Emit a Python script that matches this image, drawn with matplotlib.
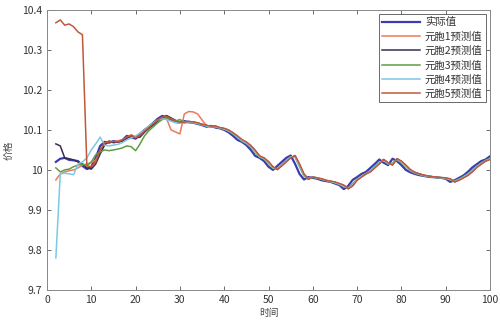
import numpy as np
import matplotlib
matplotlib.use("Agg")
import matplotlib.pyplot as plt

plt.rcParams['font.family'] = ['Noto Sans CJK SC', 'DejaVu Sans']

# time axis 2..100
t = np.arange(2, 101)

actual = [
    10.020, 10.028, 10.030, 10.025, 10.024, 10.022, 10.010, 10.002, 10.008, 10.030,
    10.060, 10.070, 10.068, 10.072, 10.070, 10.074, 10.085, 10.082, 10.078, 10.090,
    10.100, 10.108, 10.118, 10.128, 10.135, 10.132, 10.125, 10.120, 10.118, 10.122,
    10.120, 10.118, 10.115, 10.112, 10.108, 10.110, 10.106, 10.104, 10.100, 10.094,
    10.085, 10.075, 10.070, 10.062, 10.050, 10.035, 10.030, 10.022, 10.008, 10.000,
    10.010, 10.020, 10.030, 10.036, 10.015, 9.990, 9.976, 9.982, 9.980, 9.978,
    9.974, 9.972, 9.970, 9.966, 9.962, 9.952, 9.960, 9.975, 9.982, 9.990,
    9.995, 10.005, 10.015, 10.026, 10.018, 10.012, 10.028, 10.022, 10.012, 10.000,
    9.994, 9.990, 9.987, 9.985, 9.983, 9.982, 9.981, 9.980, 9.978, 9.970,
    9.974, 9.980, 9.986, 9.995, 10.006, 10.014, 10.022, 10.026, 10.034]

cell1 = [
    9.975, 9.990, 9.995, 9.998, 10.000, 10.005, 10.012, 10.015, 10.018, 10.025,
    10.045, 10.065, 10.072, 10.070, 10.073, 10.075, 10.080, 10.088, 10.082, 10.085,
    10.096, 10.106, 10.115, 10.124, 10.130, 10.128, 10.100, 10.095, 10.090, 10.140,
    10.146, 10.145, 10.140, 10.125, 10.110, 10.108, 10.110, 10.105, 10.103, 10.098,
    10.092, 10.084, 10.074, 10.068, 10.060, 10.048, 10.034, 10.029, 10.020, 10.006,
    10.002, 10.012, 10.022, 10.032, 10.034, 10.012, 9.988, 9.978, 9.983, 9.980,
    9.977, 9.974, 9.971, 9.969, 9.965, 9.960, 9.954, 9.962, 9.976, 9.984,
    9.991, 9.997, 10.007, 10.017, 10.025, 10.016, 10.014, 10.027, 10.020, 10.010,
    9.999, 9.993, 9.990, 9.986, 9.984, 9.983, 9.981, 9.980, 9.979, 9.976,
    9.971, 9.976, 9.982, 9.988, 9.997, 10.008, 10.016, 10.023, 10.028]

cell2 = [
    10.065, 10.060, 10.030, 10.028, 10.025, 10.020, 10.015, 10.005, 10.002, 10.015,
    10.040, 10.062, 10.072, 10.068, 10.070, 10.072, 10.078, 10.086, 10.080, 10.082,
    10.094, 10.104, 10.112, 10.122, 10.130, 10.136, 10.130, 10.124, 10.120, 10.118,
    10.121, 10.120, 10.117, 10.114, 10.111, 10.108, 10.109, 10.105, 10.103, 10.099,
    10.092, 10.083, 10.074, 10.069, 10.060, 10.048, 10.034, 10.029, 10.020, 10.007,
    10.001, 10.011, 10.021, 10.031, 10.035, 10.013, 9.989, 9.977, 9.982, 9.979,
    9.977, 9.973, 9.971, 9.969, 9.965, 9.961, 9.953, 9.961, 9.975, 9.983,
    9.990, 9.996, 10.006, 10.016, 10.026, 10.017, 10.013, 10.028, 10.021, 10.011,
    10.000, 9.994, 9.990, 9.987, 9.984, 9.983, 9.981, 9.980, 9.979, 9.977,
    9.970, 9.975, 9.981, 9.987, 9.996, 10.007, 10.015, 10.022, 10.027]

cell3 = [
    10.005, 9.995, 10.000, 10.002, 10.008, 10.012, 10.015, 10.010, 10.020, 10.038,
    10.045, 10.050, 10.048, 10.050, 10.052, 10.055, 10.060, 10.058, 10.048, 10.065,
    10.085, 10.098, 10.108, 10.118, 10.126, 10.130, 10.128, 10.122, 10.126, 10.119,
    10.118, 10.117, 10.116, 10.113, 10.110, 10.109, 10.108, 10.104, 10.102, 10.097,
    10.090, 10.081, 10.072, 10.066, 10.057, 10.044, 10.032, 10.027, 10.017, 10.004,
    10.003, 10.013, 10.023, 10.033, 10.032, 10.008, 9.985, 9.978, 9.981, 9.979,
    9.976, 9.973, 9.970, 9.968, 9.964, 9.958, 9.955, 9.965, 9.977, 9.985,
    9.991, 9.998, 10.008, 10.019, 10.023, 10.015, 10.017, 10.026, 10.018, 10.008,
    9.998, 9.992, 9.989, 9.986, 9.984, 9.982, 9.981, 9.980, 9.979, 9.975,
    9.972, 9.977, 9.983, 9.990, 9.999, 10.009, 10.017, 10.024, 10.029]

cell4 = [
    9.780, 9.990, 9.992, 9.990, 9.988, 10.015, 10.020, 10.030, 10.050, 10.065,
    10.082, 10.062, 10.060, 10.062, 10.064, 10.068, 10.075, 10.080, 10.085, 10.092,
    10.100, 10.110, 10.118, 10.125, 10.128, 10.126, 10.122, 10.118, 10.117, 10.119,
    10.120, 10.119, 10.116, 10.113, 10.110, 10.108, 10.108, 10.105, 10.102, 10.098,
    10.091, 10.082, 10.073, 10.067, 10.058, 10.045, 10.033, 10.028, 10.018, 10.005,
    10.002, 10.012, 10.022, 10.032, 10.033, 10.010, 9.987, 9.978, 9.982, 9.980,
    9.977, 9.974, 9.971, 9.968, 9.964, 9.959, 9.954, 9.963, 9.976, 9.984,
    9.990, 9.997, 10.007, 10.018, 10.024, 10.016, 10.015, 10.027, 10.019, 10.009,
    9.999, 9.993, 9.989, 9.986, 9.984, 9.983, 9.981, 9.980, 9.979, 9.976,
    9.971, 9.976, 9.982, 9.989, 9.998, 10.008, 10.016, 10.023, 10.028]

cell5 = [
    10.368, 10.375, 10.362, 10.365, 10.358, 10.345, 10.338, 10.010, 10.008, 10.020,
    10.050, 10.068, 10.070, 10.071, 10.070, 10.075, 10.082, 10.086, 10.080, 10.086,
    10.097, 10.106, 10.116, 10.125, 10.132, 10.134, 10.127, 10.122, 10.120, 10.119,
    10.121, 10.120, 10.118, 10.114, 10.112, 10.109, 10.110, 10.106, 10.104, 10.100,
    10.093, 10.085, 10.076, 10.070, 10.061, 10.049, 10.035, 10.030, 10.021, 10.008,
    10.001, 10.010, 10.020, 10.030, 10.036, 10.015, 9.990, 9.977, 9.982, 9.980,
    9.978, 9.974, 9.972, 9.970, 9.966, 9.962, 9.953, 9.960, 9.974, 9.982,
    9.990, 9.995, 10.005, 10.015, 10.026, 10.018, 10.012, 10.028, 10.022, 10.012,
    10.001, 9.994, 9.990, 9.987, 9.985, 9.983, 9.982, 9.981, 9.980, 9.978,
    9.970, 9.974, 9.980, 9.986, 9.995, 10.006, 10.014, 10.022, 10.026]

labels = ["实际值", "元胞1预测值", "元胞2预测值", "元胞3预测值", "元胞4预测值", "元胞5预测值"]
colors = ["#3b3cb0", "#f0785a", "#3a2c4e", "#5f9e45", "#7cc8e4", "#c2573a"]
series = [actual, cell1, cell2, cell3, cell4, cell5]

fig = plt.figure(figsize=(5, 3.21), dpi=100)
ax = fig.add_axes([0.094, 0.097, 0.886, 0.872])

for i in range(len(series)):
    lw = 1.6 if i == 0 else 1.1
    ax.plot(t, series[i], color=colors[i], linewidth=lw, label=labels[i])

ax.set_xlim(0, 100)
ax.set_ylim(9.7, 10.4)
ax.set_xticks(np.arange(0, 101, 10))
ax.set_yticks([9.7, 9.8, 9.9, 10.0, 10.1, 10.2, 10.3, 10.4])
ax.set_yticklabels(["9.7", "9.8", "9.9", "10", "10.1", "10.2", "10.3", "10.4"])
ax.tick_params(direction="in", top=True, right=True, labelsize=7.5,
               colors="#555555", labelcolor="#333333", length=3, width=0.6)
for s in ax.spines.values():
    s.set_color("#888888")
    s.set_linewidth(0.7)

ax.set_xlabel("时间", fontsize=7, color="#444444", labelpad=2)
ax.set_ylabel("价格", fontsize=7, color="#444444", labelpad=6)

leg = ax.legend(loc="upper right", fontsize=7.5, frameon=True, fancybox=False,
                handlelength=3.6, borderaxespad=0.4, labelspacing=0.4,
                borderpad=0.3, handletextpad=0.5)
leg.get_frame().set_edgecolor("#444444")
leg.get_frame().set_linewidth(0.7)
for txt in leg.get_texts():
    txt.set_color("#333333")

fig.savefig("out.png", dpi=100)
